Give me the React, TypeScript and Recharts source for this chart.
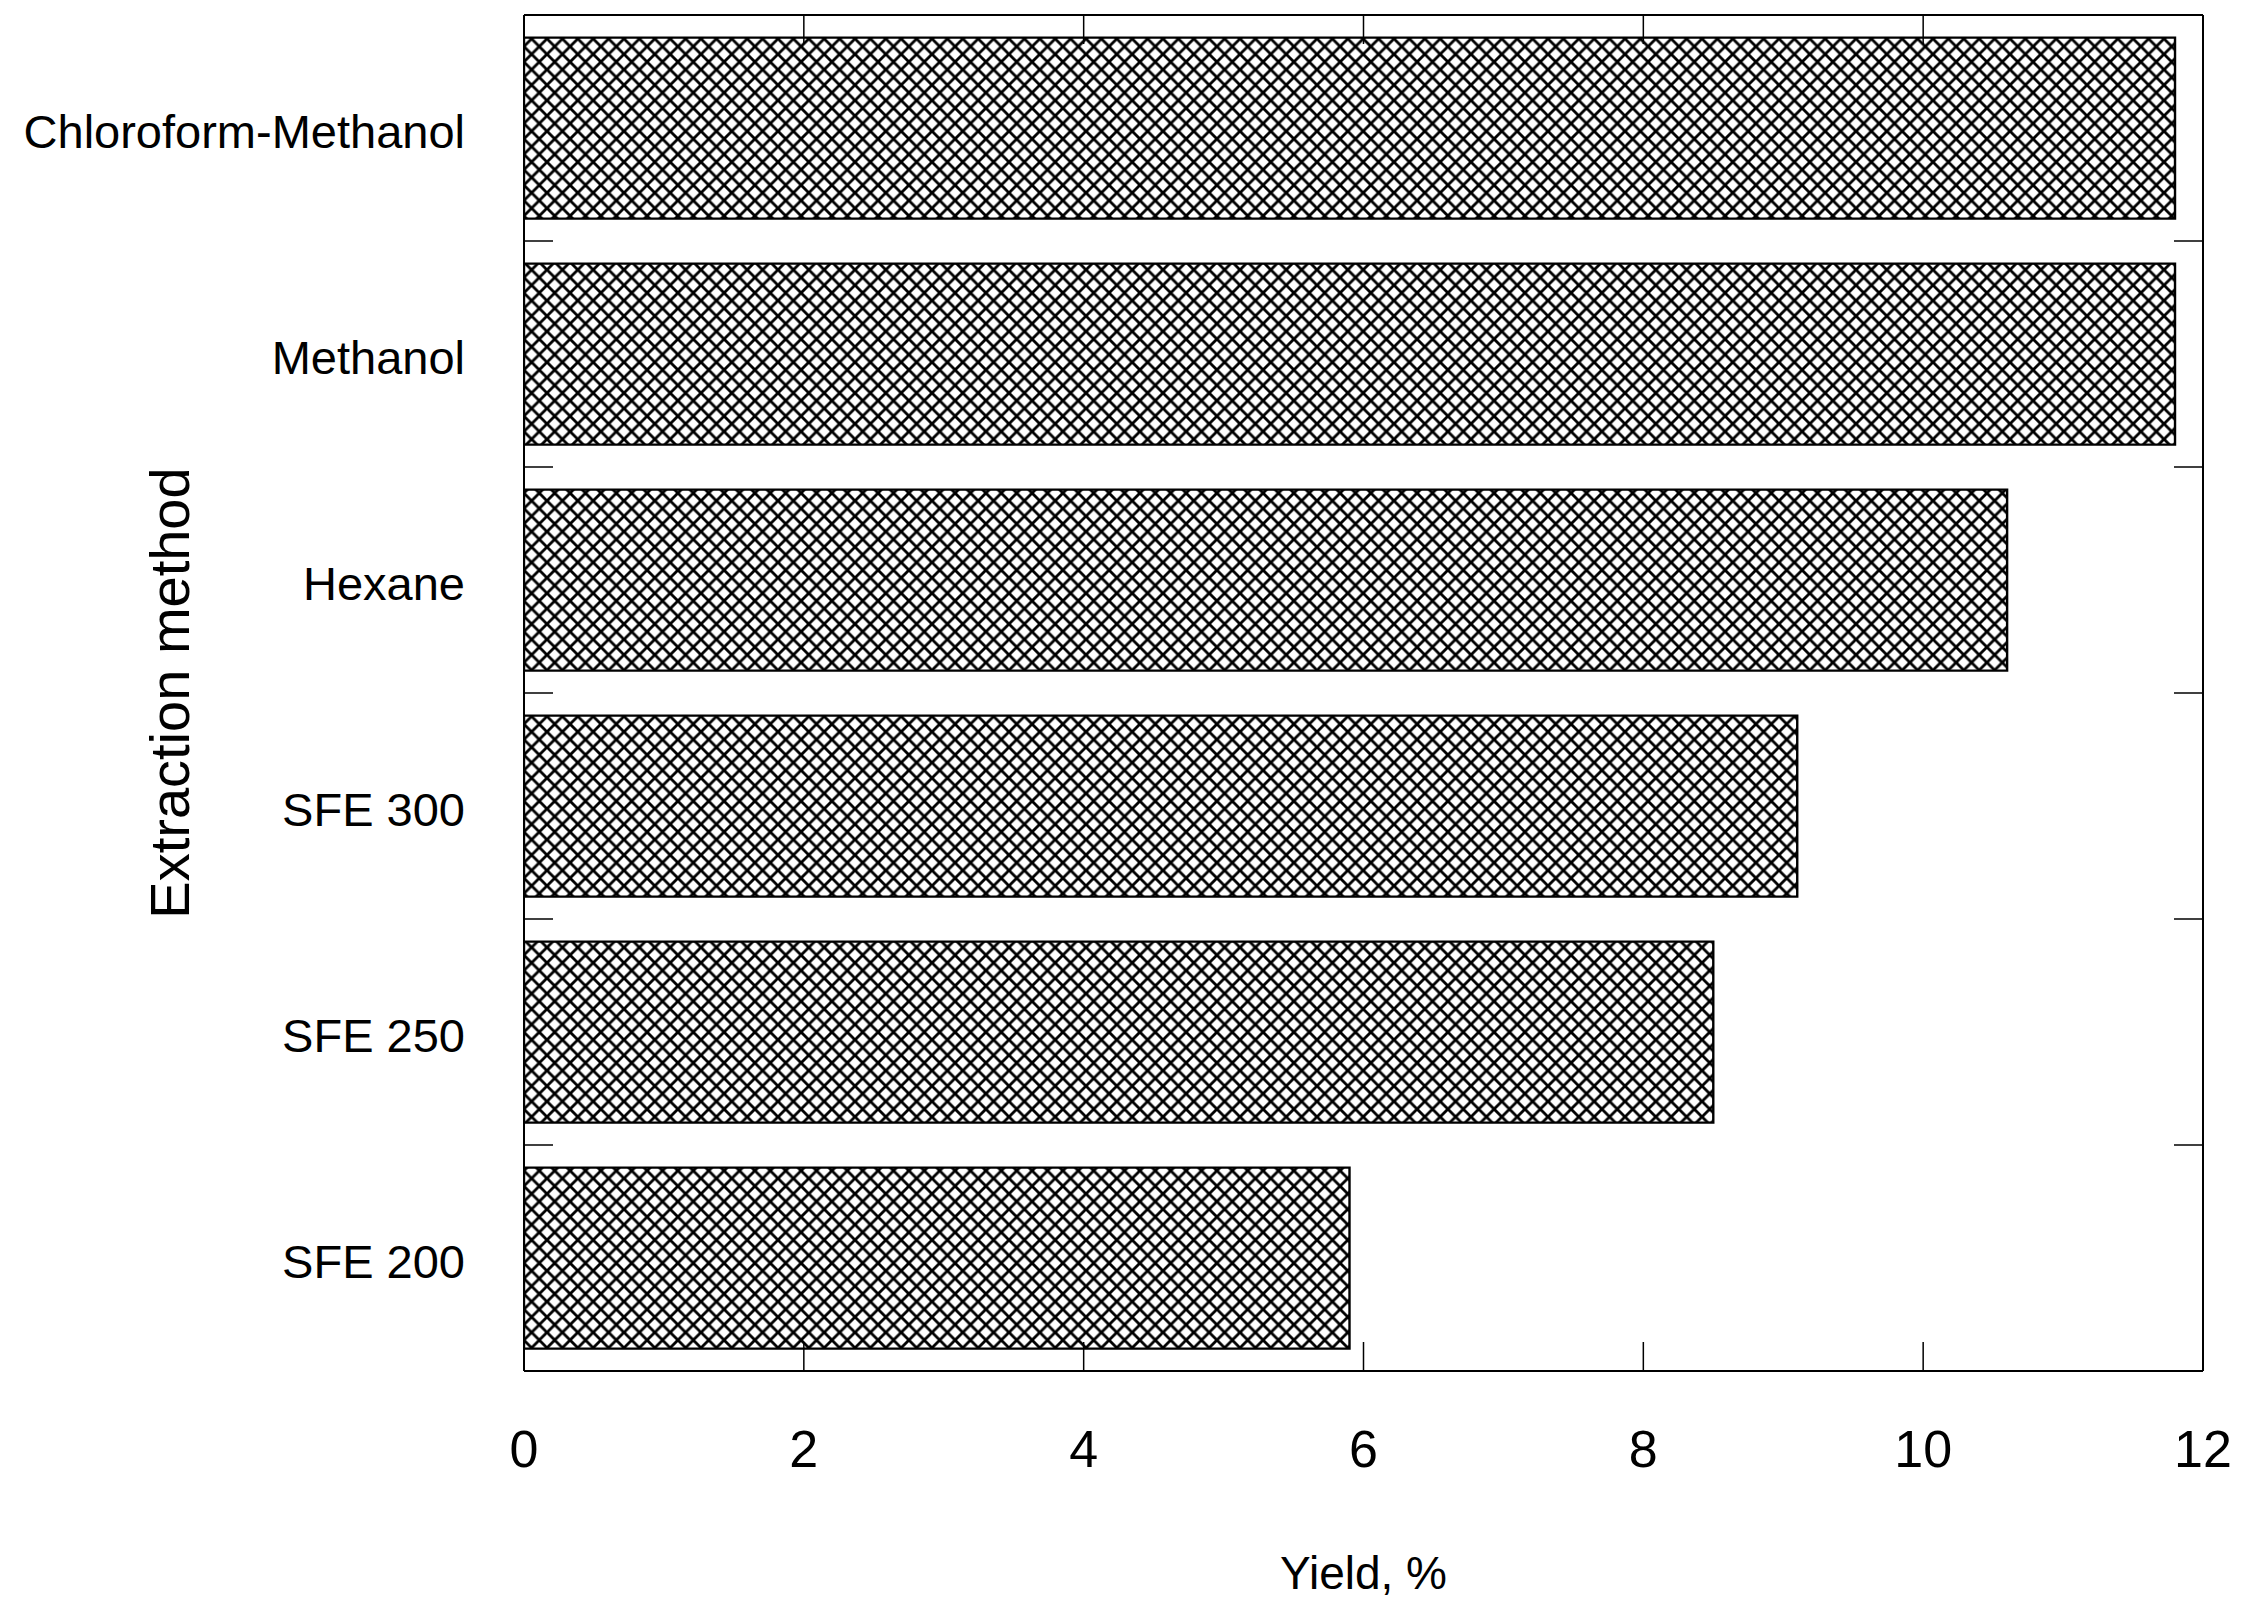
import React from 'react';
import { BarChart, Bar, XAxis, YAxis, Label } from 'recharts';

// extraction yields, top to bottom as drawn
const methods = ['Chloroform-Methanol', 'Methanol', 'Hexane', 'SFE 300', 'SFE 250', 'SFE 200'];
const yields = [11.8, 11.8, 10.6, 9.1, 8.5, 5.9];

const xTicks = [0, 2, 4, 6, 8, 10, 12];
const topTicks = [2, 4, 6, 8, 10];

const data = methods.map((m, i) => ({ method: m, yield: yields[i] }));

const FONT = '"Liberation Sans", Arial, Helvetica, sans-serif';
const line = { stroke: '#000', strokeWidth: 2 };
const tickLine = { stroke: '#000', strokeWidth: 1.5 };
const blank = () => '';
const TICK_LEN = 29;

// category label plus an inward tick at the top edge of each band
const LeftTick = (props: any) => {
  const { x, y, payload, index } = props;
  const half = payload && payload.offset ? payload.offset : 0;
  return (
    <g>
      <text
        x={x - 59}
        y={y + 3}
        textAnchor="end"
        dominantBaseline="central"
        fontFamily={FONT}
        fontSize={47}
        fill="#000"
      >
        {payload.value}
      </text>
      {index > 0 && half > 0 && (
        <line x1={x} x2={x + TICK_LEN} y1={y - half} y2={y - half} {...tickLine} />
      )}
    </g>
  );
};

const RightTick = (props: any) => {
  const { x, y, payload, index } = props;
  const half = payload && payload.offset ? payload.offset : 0;
  if (!(index > 0 && half > 0)) return <g />;
  return <line x1={x - TICK_LEN} x2={x} y1={y - half} y2={y - half} {...tickLine} />;
};

const YTitle = (props: any) => {
  const vb = props.viewBox;
  const x = vb.x - 354;
  const y = vb.y + vb.height / 2;
  return (
    <text
      x={x}
      y={y}
      transform={`rotate(-90 ${x} ${y})`}
      textAnchor="middle"
      dominantBaseline="central"
      fontFamily={FONT}
      fontSize={56}
      fill="#000"
    >
      Extraction method
    </text>
  );
};

const XTitle = (props: any) => {
  const vb = props.viewBox;
  return (
    <text
      x={vb.x + vb.width / 2}
      y={vb.y + 202}
      textAnchor="middle"
      dominantBaseline="central"
      fontFamily={FONT}
      fontSize={46}
      fill="#000"
    >
      Yield, %
    </text>
  );
};

export default function App() {
  return (
    <BarChart
      width={2249}
      height={1602}
      data={data}
      layout="vertical"
      margin={{ top: 6, right: 53, bottom: 0, left: 515 }}
      barCategoryGap="10%"
      style={{ fontFamily: FONT }}
    >
      <defs>
        <pattern id="xhatch" patternUnits="userSpaceOnUse" width={15.4} height={15.4}>
          <rect width={15.4} height={15.4} fill="#fff" />
          <path
            d="M-3.85,3.85 l7.7,-7.7 M0,15.4 l15.4,-15.4 M11.55,19.25 l7.7,-7.7"
            stroke="#000"
            strokeWidth={2.8}
          />
          <path
            d="M-3.85,11.55 l7.7,7.7 M0,0 l15.4,15.4 M11.55,-3.85 l7.7,7.7"
            stroke="#000"
            strokeWidth={2.8}
          />
        </pattern>
      </defs>

      <XAxis
        type="number"
        domain={[0, 12]}
        ticks={xTicks}
        height={239}
        axisLine={line}
        tickLine={tickLine}
        tickSize={-TICK_LEN}
        tickMargin={88}
        tick={{ fontSize: 52, fill: '#000', fontFamily: FONT }}
        allowDataOverflow
      >
        <Label content={XTitle} />
      </XAxis>
      <XAxis
        xAxisId="top"
        orientation="top"
        type="number"
        domain={[0, 12]}
        ticks={topTicks}
        height={1}
        axisLine={line}
        tickLine={tickLine}
        tickSize={-TICK_LEN}
        tickFormatter={blank}
        allowDataOverflow
      />

      <YAxis
        type="category"
        dataKey="method"
        width={1}
        axisLine={line}
        tickLine={false}
        tickSize={0}
        tickMargin={0}
        tick={LeftTick}
        interval={0}
      >
        <Label content={YTitle} />
      </YAxis>
      <YAxis
        yAxisId="right"
        orientation="right"
        type="category"
        dataKey="method"
        width={1}
        axisLine={line}
        tickLine={false}
        tickSize={0}
        tickMargin={0}
        tick={RightTick}
        interval={0}
      />

      <Bar
        dataKey="yield"
        fill="url(#xhatch)"
        stroke="#000"
        strokeWidth={2.4}
        isAnimationActive={false}
      />
    </BarChart>
  );
}
